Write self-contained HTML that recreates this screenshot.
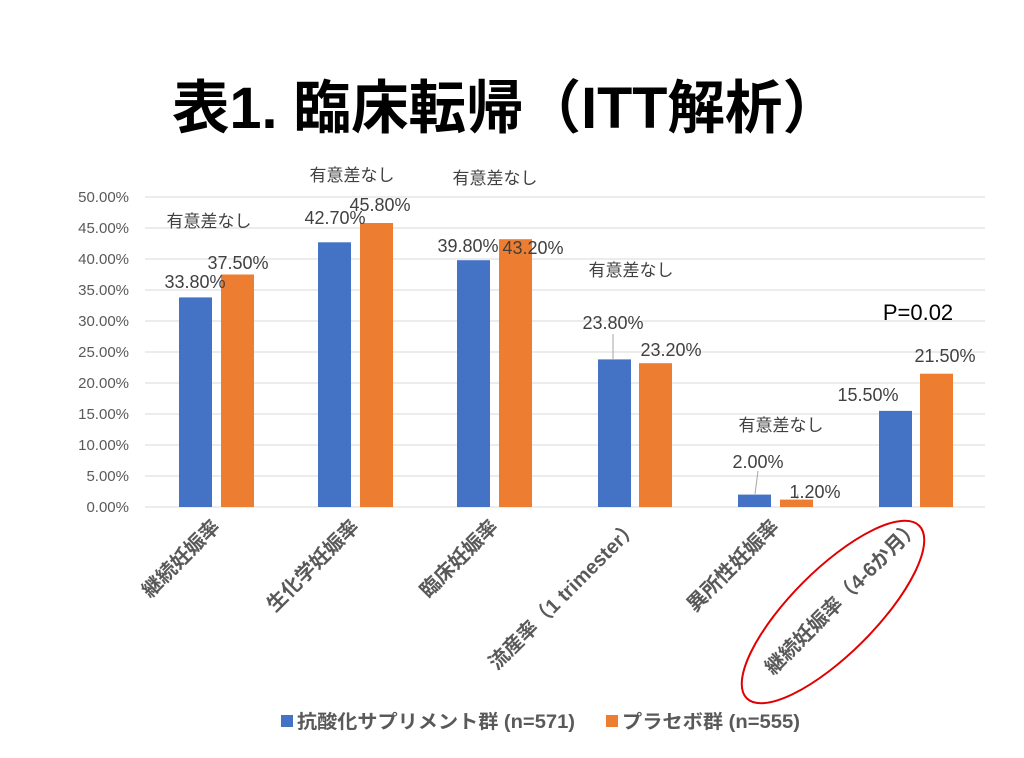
<!DOCTYPE html>
<html><head><meta charset="utf-8"><style>
body{margin:0;background:#fff}
svg{display:block}
text{font-family:"Liberation Sans","Noto Sans CJK JP",sans-serif}
</style></head><body>
<svg width="1024" height="758" viewBox="0 0 1024 758" xmlns="http://www.w3.org/2000/svg">
<text x="172" y="128" font-size="58" font-weight="bold" fill="#000" textLength="668" lengthAdjust="spacingAndGlyphs">表1. 臨床転帰（ITT解析）</text>
<g stroke="#d9d9d9" stroke-width="1">
<line x1="145" x2="985" y1="197" y2="197"/><line x1="145" x2="985" y1="228" y2="228"/>
<line x1="145" x2="985" y1="259" y2="259"/><line x1="145" x2="985" y1="290" y2="290"/>
<line x1="145" x2="985" y1="321" y2="321"/><line x1="145" x2="985" y1="352" y2="352"/>
<line x1="145" x2="985" y1="383" y2="383"/><line x1="145" x2="985" y1="414" y2="414"/>
<line x1="145" x2="985" y1="445" y2="445"/><line x1="145" x2="985" y1="476" y2="476"/>
<line x1="145" x2="985" y1="507" y2="507"/>
</g>
<g font-size="15" fill="#595959" text-anchor="end">
<text x="129" y="202">50.00%</text><text x="129" y="233">45.00%</text><text x="129" y="264">40.00%</text>
<text x="129" y="295">35.00%</text><text x="129" y="326">30.00%</text><text x="129" y="357">25.00%</text>
<text x="129" y="388">20.00%</text><text x="129" y="419">15.00%</text><text x="129" y="450">10.00%</text>
<text x="129" y="481">5.00%</text><text x="129" y="512">0.00%</text>
</g>
<g fill="#4472c4">
<rect x="179" y="297.4" width="33" height="209.6"/>
<rect x="318" y="242.3" width="33" height="264.7"/>
<rect x="457" y="260.2" width="33" height="246.8"/>
<rect x="598" y="359.4" width="33" height="147.6"/>
<rect x="738" y="494.6" width="33" height="12.4"/>
<rect x="879" y="410.9" width="33" height="96.1"/>
</g>
<g fill="#ed7d31">
<rect x="221" y="274.5" width="33" height="232.5"/>
<rect x="360" y="223" width="33" height="284"/>
<rect x="499" y="239.2" width="33" height="267.8"/>
<rect x="639" y="363.2" width="33" height="143.8"/>
<rect x="780" y="499.6" width="33" height="7.4"/>
<rect x="920" y="373.7" width="33" height="133.3"/>
</g>
<g stroke="#a6a6a6" stroke-width="1">
<line x1="613" y1="334" x2="613" y2="359"/>
<line x1="758" y1="471" x2="755" y2="494"/>
<line x1="798" y1="494" x2="797" y2="499"/>
</g>
<g font-size="18" fill="#404040" text-anchor="middle">
<text x="195" y="288">33.80%</text><text x="238" y="269">37.50%</text>
<text x="335" y="224">42.70%</text><text x="380" y="211">45.80%</text>
<text x="468" y="252">39.80%</text><text x="533" y="254">43.20%</text>
<text x="613" y="329">23.80%</text><text x="671" y="356">23.20%</text>
<text x="758" y="468">2.00%</text><text x="815" y="498">1.20%</text>
<text x="868" y="401">15.50%</text><text x="945" y="362">21.50%</text>
</g>
<g font-size="17" fill="#404040" text-anchor="middle">
<text x="209" y="227">有意差なし</text><text x="352" y="181">有意差なし</text>
<text x="495" y="184">有意差なし</text><text x="631" y="276">有意差なし</text>
<text x="781" y="431">有意差なし</text>
</g>
<text x="918" y="320" font-size="22" fill="#000" text-anchor="middle">P=0.02</text>
<g font-size="20" font-weight="bold" fill="#595959" text-anchor="end">
<text transform="translate(221,528) rotate(-45)">継続妊娠率</text>
<text transform="translate(360,528) rotate(-45)">生化学妊娠率</text>
<text transform="translate(499,528) rotate(-45)">臨床妊娠率</text>
<text transform="translate(640,528) rotate(-45)">流産率（1 trimester）</text>
<text transform="translate(780,528) rotate(-45)">異所性妊娠率</text>
<text transform="translate(921,528) rotate(-45)">継続妊娠率（4-6か月）</text>
</g>
<ellipse cx="833" cy="612" rx="122" ry="42" transform="rotate(-45 833 612)" fill="none" stroke="#e00000" stroke-width="2"/>
<rect x="281" y="715" width="12" height="12" fill="#4472c4"/>
<text x="297" y="728" font-size="19" font-weight="bold" fill="#595959" textLength="278" lengthAdjust="spacingAndGlyphs">抗酸化サプリメント群 (n=571)</text>
<rect x="606" y="715" width="12" height="12" fill="#ed7d31"/>
<text x="622" y="728" font-size="19" font-weight="bold" fill="#595959" textLength="178" lengthAdjust="spacingAndGlyphs">プラセボ群 (n=555)</text>
</svg>
</body></html>
